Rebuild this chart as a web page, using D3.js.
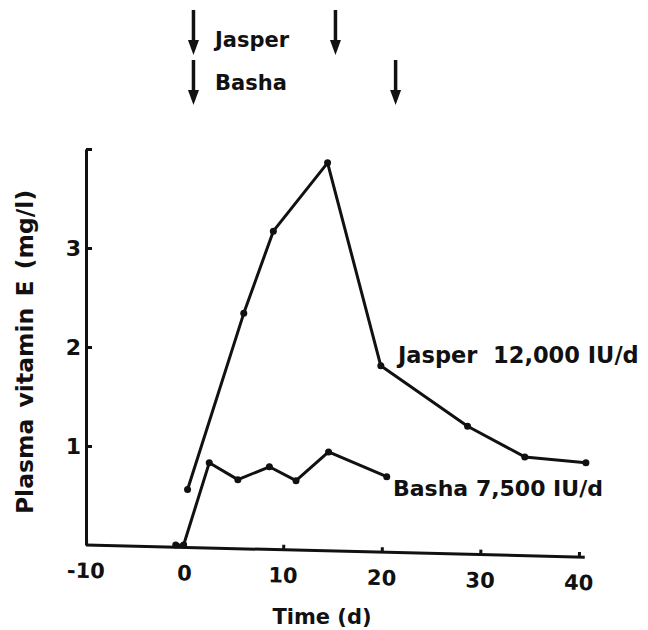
<!DOCTYPE html>
<html>
<head>
<meta charset="utf-8">
<script src="https://cdn.jsdelivr.net/npm/d3@7"></script>
<style>
  body { margin: 0; background: #fff; }
  svg text { font-family: "DejaVu Sans", sans-serif; font-weight: bold; fill: #111; }
</style>
</head>
<body>
<svg id="chart" width="648" height="630"></svg>
<script>
// values
var jasperDays = [0.3, 6, 9, 14.5, 19.9, 28.7, 34.5, 40.7];
var jasperVitE = [0.56, 2.34, 3.17, 3.86, 1.81, 1.2, 0.89, 0.83];
var bashaDays = [-0.9, -0.1, 2.5, 5.4, 8.6, 11.3, 14.6, 20.5];
var bashaVitE = [0, 0, 0.83, 0.66, 0.79, 0.65, 0.94, 0.69];

// start / stop of supplementation (arrows at top)
var jasperArrowDays = [0.9, 15.3];
var bashaArrowDays = [0.9, 21.4];

var xTicks = [-10, 0, 10, 20, 30, 40];
var yTicks = [1, 2, 3, 4];
var yTickLabels = ['1', '2', '3', ''];

function zip(xs, ys) {
  return xs.map(function(d, i) { return { day: d, val: ys[i] }; });
}

function drawChart() {
  var svg = d3.select('#chart');
  var ink = '#111';

  var x = d3.scaleLinear().domain([-10, 40]).range([86, 579]);
  var y = d3.scaleLinear().domain([0, 4]).range([545, 149]);

  // x axis (the scanned figure is tilted a little, so is the axis)
  var xAxis = svg.append('g')
    .attr('transform', 'rotate(1.4,' + x(-10) + ',' + y(0) + ') translate(0,' + y(0) + ')')
    .call(d3.axisBottom(x).tickValues(xTicks).tickSizeInner(-5).tickSizeOuter(0).tickPadding(18)
      .tickFormat(function(d) { return d; }));
  xAxis.select('.domain').attr('d', 'M' + x(-10) + ',0H' + x(40.6));

  var yAxis = svg.append('g')
    .attr('transform', 'translate(' + x(-10) + ',0)')
    .call(d3.axisLeft(y).tickValues(yTicks).tickSizeInner(-6).tickSizeOuter(0).tickPadding(5)
      .tickFormat(function(d, i) { return yTickLabels[i]; }));

  svg.selectAll('.domain, .tick line')
    .style('stroke', ink)
    .style('stroke-width', 3);
  svg.selectAll('.tick text')
    .style('font-size', '21px')
    .style('fill', ink)
    .style('font-family', '"DejaVu Sans", sans-serif');
  yAxis.selectAll('.tick text').style('font-size', '22px');

  // axis titles
  svg.append('text')
    .attr('transform', 'translate(33,' + 352 + ') rotate(-90)')
    .attr('text-anchor', 'middle')
    .style('font-size', '23.5px')
    .style('word-spacing', '3px')
    .text('Plasma vitamin E  (mg/l)');

  svg.append('text')
    .attr('x', 322).attr('y', 624)
    .attr('text-anchor', 'middle')
    .style('font-size', '21px')
    .text('Time (d)');

  // series
  var line = d3.line()
    .x(function(d) { return x(d.day); })
    .y(function(d) { return y(d.val); });

  var series = [zip(jasperDays, jasperVitE), zip(bashaDays, bashaVitE)];

  svg.selectAll('path.series')
    .data(series)
    .enter()
    .append('path')
      .attr('class', 'series')
      .attr('d', line)
      .style('fill', 'none')
      .style('stroke', ink)
      .style('stroke-width', 3)
      .style('stroke-linejoin', 'round');

  svg.selectAll('g.pts')
    .data(series)
    .enter()
    .append('g')
      .attr('class', 'pts')
    .selectAll('circle')
    .data(function(d) { return d; })
    .enter()
    .append('circle')
      .attr('cx', function(d) { return x(d.day); })
      .attr('cy', function(d) { return y(d.val); })
      .attr('r', 3.5)
      .style('fill', ink);

  // series labels
  svg.append('text')
    .attr('x', 398).attr('y', 363)
    .style('font-size', '22.5px')
    .style('white-space', 'pre')
    .text('Jasper  12,000 IU/d');

  svg.append('text')
    .attr('x', 393).attr('y', 496)
    .style('font-size', '22px')
    .text('Basha 7,500 IU/d');

  // arrows + names at top
  var rows = [
    { name: 'Jasper', days: jasperArrowDays, top: 10, tip: 55, textY: 47 },
    { name: 'Basha', days: bashaArrowDays, top: 60, tip: 105, textY: 90 }
  ];

  rows.forEach(function(r) {
    var g = svg.append('g');
    g.selectAll('line')
      .data(r.days)
      .enter()
      .append('line')
        .attr('x1', function(d) { return x(d); })
        .attr('x2', function(d) { return x(d); })
        .attr('y1', r.top)
        .attr('y2', r.tip - 12)
        .style('stroke', ink)
        .style('stroke-width', 3.5);
    g.selectAll('path')
      .data(r.days)
      .enter()
      .append('path')
        .attr('d', function(d) {
          var cx = x(d);
          return 'M' + (cx - 5.5) + ',' + (r.tip - 15) + 'L' + (cx + 5.5) + ',' + (r.tip - 15) + 'L' + cx + ',' + r.tip + 'Z';
        })
        .style('fill', ink);
    g.append('text')
      .attr('x', 215).attr('y', r.textY)
      .style('font-size', '21px')
      .text(r.name);
  });
}

drawChart();
</script>
</body>
</html>
